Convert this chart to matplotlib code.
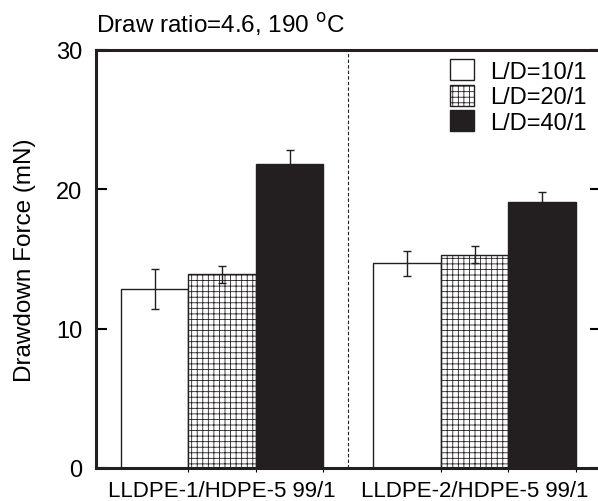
import numpy as np
import matplotlib.pyplot as plt

plt.rcParams['font.family'] = ['Liberation Sans', 'DejaVu Sans']
plt.rcParams['hatch.linewidth'] = 0.6

groups = ['LLDPE-1/HDPE-5 99/1', 'LLDPE-2/HDPE-5 99/1']
labels = ['L/D=10/1', 'L/D=20/1', 'L/D=40/1']
force = [[12.85, 14.7], [13.9, 15.3], [21.8, 19.1]]
err = [[1.45, 0.9], [0.6, 0.6], [1.0, 0.7]]

DARK = '#231f20'
styles = [dict(color='white', hatch=None),
          dict(color='white', hatch='+++'),
          dict(color=DARK, hatch=None)]

fig = plt.figure(figsize=(5.98, 5.02), dpi=100)
ax = fig.add_axes([96 / 598, 1 - 469 / 502, 504.75 / 598, 418 / 502])

x = np.arange(len(groups))
w = 0.267
for i in range(3):
    ax.bar(x + (i - 1) * w, force[i], w, color=styles[i]['color'],
           hatch=styles[i]['hatch'], edgecolor=DARK, linewidth=1.0,
           label=labels[i], zorder=2)
    ax.errorbar(x + (i - 1) * w, force[i], yerr=err[i], fmt='none',
                ecolor=DARK, elinewidth=1.0, capsize=2.8, capthick=1.0, zorder=3)

ax.axvline(0.5, color=DARK, linestyle=(0, (3, 2)), linewidth=0.8, zorder=1)

ax.set_xlim(-0.5, 1.5)
ax.set_ylim(0, 30)
ax.set_yticks([0, 10, 20, 30])
ax.set_xticks(x)
ax.set_xticklabels(groups, fontsize=16)
ax.set_xticks(np.concatenate([x - 0.5 * w, x + 0.5 * w, x + 1.5 * w]), minor=True)
ax.tick_params(axis='x', which='major', length=0, pad=9)
ax.tick_params(axis='x', which='minor', length=3, width=0.8, direction='out')
ax.tick_params(axis='y', direction='in', length=8, width=1.5, labelsize=17,
               right=True, pad=10)
for s in ax.spines.values():
    s.set_linewidth(2.2)
    s.set_color(DARK)

ax.set_ylabel('Drawdown Force (mN)', fontsize=17.5, labelpad=14)
ax.text(0.0, 1.03, 'Draw ratio=4.6, 190 $^\\mathrm{o}$C', transform=ax.transAxes,
        fontsize=17.5, ha='left', va='bottom')

ax.legend(loc='upper right', bbox_to_anchor=(1.0, 1.012), frameon=False,
          fontsize=17, handlelength=1.0, handleheight=1.0, handletextpad=0.7,
          labelspacing=0.08, borderaxespad=0.2)

fig.savefig('out.png', dpi=100)
